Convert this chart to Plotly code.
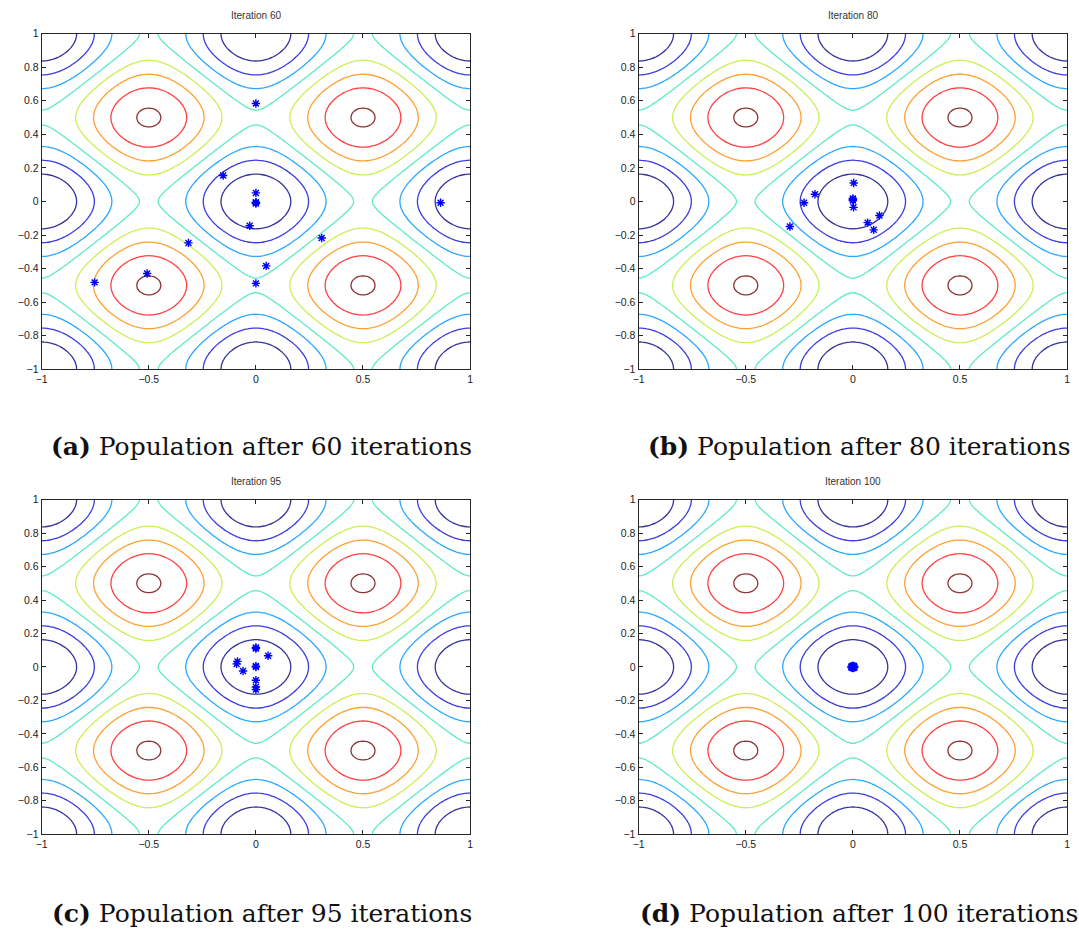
import numpy as np
import plotly.graph_objects as go

# ---- data ----
iterations = [60, 80, 95, 100]
panel_letters = ["a", "b", "c", "d"]

# contour levels of the objective surface
levels = [-1.52, -1.026, -0.532, -0.038, 0.456, 0.95, 1.444, 1.938]
level_colors = ["#34349a", "#3c3ce0", "#2aa8ff", "#5eeac6",
                "#c8f058", "#ffa032", "#ff4040", "#8e3434"]

# population positions per panel
pop_a_x = [0.0, -0.153, 0.0, 0.0, 0.0, 0.0, -0.029, -0.315, 0.307, 0.048, 0.0, -0.508, -0.753, 0.862]
pop_a_y = [0.584, 0.155, 0.051, -0.008, -0.004, -0.012, -0.145, -0.247, -0.218, -0.384, -0.488, -0.429, -0.482, -0.008]

pop_b_x = [0.004, 0.0, 0.0, 0.0, 0.003, -0.177, -0.228, -0.294, 0.069, 0.124, 0.097]
pop_b_y = [0.11, 0.018, 0.005, 0.012, -0.035, 0.043, -0.008, -0.149, -0.126, -0.084, -0.169]

pop_c_x = [0.0, 0.0, 0.0, 0.0, 0.057, -0.086, -0.09, -0.06, 0.0, 0.0, 0.0]
pop_c_y = [0.116, 0.11, 0.0, 0.005, 0.067, 0.033, 0.018, -0.024, -0.08, -0.12, -0.135]

pop_d_x = [0.0, 0.007, -0.007, 0.0, 0.0, 0.005, -0.005, 0.005, -0.005]
pop_d_y = [0.0, 0.0, 0.0, 0.007, -0.007, 0.005, 0.005, -0.005, -0.005]

pops = [(pop_a_x, pop_a_y), (pop_b_x, pop_b_y), (pop_c_x, pop_c_y), (pop_d_x, pop_d_y)]

x_ticks = [-1, -0.5, 0, 0.5, 1]
y_ticks = [-1, -0.8, -0.6, -0.4, -0.2, 0, 0.2, 0.4, 0.6, 0.8, 1]

# objective surface (periodic test function)
grid = np.linspace(-1, 1, 161)
GX, GY = np.meshgrid(grid, grid)
Z = -(np.cos(2 * np.pi * GX) + np.cos(2 * np.pi * GY))

# ---- layout geometry (pixels) ----
W, H = 1079, 938
cols_px = [(36, 468), (638, 1070)]
rows_px = [(28, 368), (500, 839)]
caption_y_px = [446, 919]
caption_cx_px = [258, 860]

n_lv = len(levels)
colorscale = [[k / (n_lv - 1), c] for k, c in enumerate(level_colors)]
step = (levels[-1] - levels[0]) / (n_lv - 1)

fig = go.Figure()
layout = dict(
    width=W, height=H, margin=dict(l=0, r=0, t=0, b=0),
    paper_bgcolor="white", plot_bgcolor="white", showlegend=False,
)
annotations = []

for i in range(4):
    r, c = divmod(i, 2)
    x0, x1 = cols_px[c]
    y0, y1 = rows_px[r]
    xa = "xaxis" if i == 0 else f"xaxis{i+1}"
    ya = "yaxis" if i == 0 else f"yaxis{i+1}"
    xr = "x" if i == 0 else f"x{i+1}"
    yr = "y" if i == 0 else f"y{i+1}"

    fig.add_trace(go.Contour(
        x=grid, y=grid, z=Z, xaxis=xr, yaxis=yr,
        autocontour=False,
        contours=dict(start=levels[0], end=levels[-1] + 1e-6, size=step, coloring="lines"),
        colorscale=colorscale, showscale=False,
        line=dict(width=1.3, smoothing=1),
        hoverinfo="skip",
    ))
    px_, py_ = pops[i]
    fig.add_trace(go.Scatter(
        x=px_, y=py_, xaxis=xr, yaxis=yr, mode="markers",
        marker=dict(symbol="asterisk", size=7, color="#0000ff",
                    line=dict(color="#0000ff", width=1.4)),
        hoverinfo="skip",
    ))

    common = dict(showline=True, linecolor="#262626", linewidth=1.2, mirror="allticks",
                  ticks="inside", ticklen=4, tickcolor="#262626", showgrid=False, zeroline=False,
                  tickfont=dict(family="Liberation Sans, Arial", size=10.5, color="#222222"))
    layout[xa] = dict(domain=[x0 / W, x1 / W], range=[-1, 1], anchor=yr,
                      tickvals=x_ticks, **common)
    layout[ya] = dict(domain=[1 - y1 / H, 1 - y0 / H], range=[-1, 1], anchor=xr,
                      tickvals=y_ticks, **common)

    annotations.append(dict(
        text=f"Iteration {iterations[i]}", xref="paper", yref="paper",
        x=(x0 + x1) / 2 / W, y=1 - y0 / H, xanchor="center", yanchor="bottom", yshift=11,
        showarrow=False, font=dict(family="Liberation Sans, Arial", size=10, color="#333333"),
    ))
    annotations.append(dict(
        text=f"<b>({panel_letters[i]})</b> Population after {iterations[i]} iterations",
        xref="paper", yref="paper",
        x=caption_cx_px[c] / W, y=1 - caption_y_px[r] / H, xanchor="center", yanchor="middle",
        showarrow=False, font=dict(family="DejaVu Serif", size=25, color="#111111"),
    ))

layout["annotations"] = annotations
fig.update_layout(**layout)
fig.write_html("out.html")
